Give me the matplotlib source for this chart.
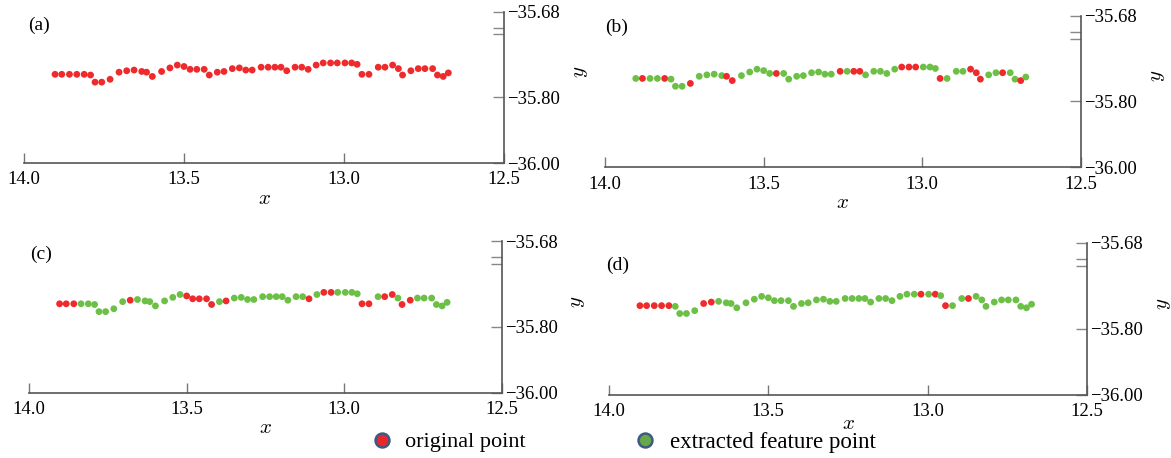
import matplotlib.pyplot as plt
from matplotlib.lines import Line2D
import numpy as np

# contour points (same curve in every panel)
x_vals = [13.903, 13.882, 13.858, 13.835, 13.812, 13.792, 13.778, 13.757, 13.731, 13.703,
          13.679, 13.656, 13.632, 13.617, 13.599, 13.570, 13.544, 13.521, 13.500, 13.481,
          13.460, 13.437, 13.421, 13.396, 13.375, 13.349, 13.327, 13.307, 13.287, 13.259,
          13.237, 13.216, 13.197, 13.179, 13.153, 13.132, 13.112, 13.087, 13.065, 13.042,
          13.021, 12.997, 12.976, 12.959, 12.944, 12.922, 12.893, 12.872, 12.848, 12.830,
          12.817, 12.791, 12.768, 12.747, 12.723, 12.708, 12.690, 12.674]
y_vals = [-35.768, -35.768, -35.768, -35.768, -35.768, -35.769, -35.779, -35.779, -35.775, -35.765,
          -35.763, -35.762, -35.764, -35.765, -35.771, -35.764, -35.759, -35.755, -35.757, -35.761,
          -35.761, -35.761, -35.769, -35.765, -35.764, -35.760, -35.759, -35.762, -35.762, -35.758,
          -35.758, -35.758, -35.758, -35.763, -35.758, -35.758, -35.761, -35.755, -35.752, -35.752,
          -35.752, -35.752, -35.752, -35.754, -35.768, -35.768, -35.758, -35.758, -35.755, -35.760,
          -35.769, -35.763, -35.760, -35.760, -35.760, -35.769, -35.771, -35.766]

# R = original point, G = extracted feature point
colors_a = "R" * 58
colors_b = "GRGGRGGGRG" "GGGRRGGGGG" "RGGGGGGGGR" "GRRGGGGGRR" "RGGGRGGGRR" "RGGRGGRG"
colors_c = "RRRGGGGGGG" "RGGGGGGGRR" "RRRGRGGGGG" "GGGGGGRGRR" "GGGGRRGRRG" "RRGGGGGG"
colors_d = "RRRRRGGGGR" "RGGGGGGGGG" "GGGGGGGGGG" "GGGGGGGGGG" "RGRGRGGRGG" "GGGGGGGG"
panel_colors = [colors_a, colors_b, colors_c, colors_d]
panel_names = ['(a)', '(b)', '(c)', '(d)']

x_ticks = [14.0, 13.5, 13.0, 12.5]
x_ticklabels = ['14.0', '13.5', '13.0', '12.5']
y_ticks = [-36.00, -35.80, -35.68]
y_ticklabels = ['\u221236.00', '\u221235.80', '\u221235.68']
y_minor = [-35.712, -35.703]
legend_labels = ['original point', 'extracted feature point']

RED = '#ee2a2c'
GREEN = '#6cc046'

plt.rcParams['font.family'] = 'Liberation Serif'
plt.rcParams['mathtext.fontset'] = 'cm'

W, H = 1171, 458
fig = plt.figure(figsize=(W / 100, H / 100), dpi=100)

# axes boxes in pixels: left, top, right, bottom
boxes = [(24, 11.7, 504, 163), (605, 15.7, 1081, 167.3),
         (29, 241, 502, 392.7), (609, 242.7, 1087, 394.8)]
name_pos = [(28, 25), (605, 27), (30, 254), (606, 265)]
xlabel_pad = [1, 1, 1, -4]

# the y axis is squeezed below -35.80
def fwd(v):
    return np.interp(v, [-36.0, -35.80, -35.68], [0.0, 66.0, 151.5])

def inv(v):
    return np.interp(v, [0.0, 66.0, 151.5], [-36.0, -35.80, -35.68])

for i in range(4):
    l, t, r, b = boxes[i]
    ax = fig.add_axes([l / W, 1 - b / H, (r - l) / W, (b - t) / H])
    ax.set_yscale('function', functions=(fwd, inv))
    cols = [RED if c == 'R' else GREEN for c in panel_colors[i]]
    ax.scatter(x_vals, y_vals, c=cols, s=24, linewidths=0, zorder=3)
    ax.set_xlim(14.0, 12.5)
    ax.set_ylim(-36.0, -35.68)

    ax.spines['left'].set_visible(False)
    ax.spines['top'].set_visible(False)
    for s in ['right', 'bottom']:
        ax.spines[s].set_color('#555555')
        ax.spines[s].set_linewidth(1.2)

    ax.yaxis.tick_right()
    ax.yaxis.set_label_position('right')
    ax.set_yticks(y_ticks)
    ax.set_yticklabels(y_ticklabels)
    ax.set_yticks(y_minor, minor=True)
    ax.tick_params(axis='y', which='both', direction='in', length=8, width=1,
                   color='#888888', pad=2, labelsize=13.5)
    ax.set_xticks(x_ticks)
    ax.set_xticklabels(x_ticklabels)
    ax.tick_params(axis='x', direction='in', length=7.5, width=1,
                   color='#777777', pad=6, labelsize=13.5)

    ax.set_xlabel('$x$', fontsize=15, labelpad=xlabel_pad[i])
    ax.set_ylabel('$y$', fontsize=15)
    ax.yaxis.set_label_coords(1.14, 0.6)

    fig.text(name_pos[i][0] / W, 1 - name_pos[i][1] / H, panel_names[i],
             ha='left', va='center', fontsize=14)

# legend at the bottom
h_red = Line2D([], [], marker='o', linestyle='none', markersize=10,
               markerfacecolor='#e8262b', markeredgecolor='#3d5a80', markeredgewidth=1.8)
h_green = Line2D([], [], marker='o', linestyle='none', markersize=10,
                 markerfacecolor='#68a84c', markeredgecolor='#3d5a80', markeredgewidth=1.8)
fig.legend(handles=[h_red], labels=[legend_labels[0]], loc='center left',
           bbox_to_anchor=(371 / W, 1 - 442 / H), frameon=False, handlelength=1,
           handletextpad=0.55, borderpad=0, borderaxespad=0, fontsize=16)
fig.legend(handles=[h_green], labels=[legend_labels[1]], loc='center left',
           bbox_to_anchor=(634 / W, 1 - 442 / H), frameon=False, handlelength=1,
           handletextpad=0.55, borderpad=0, borderaxespad=0, fontsize=16.5)

plt.savefig('out.png', dpi=100)
